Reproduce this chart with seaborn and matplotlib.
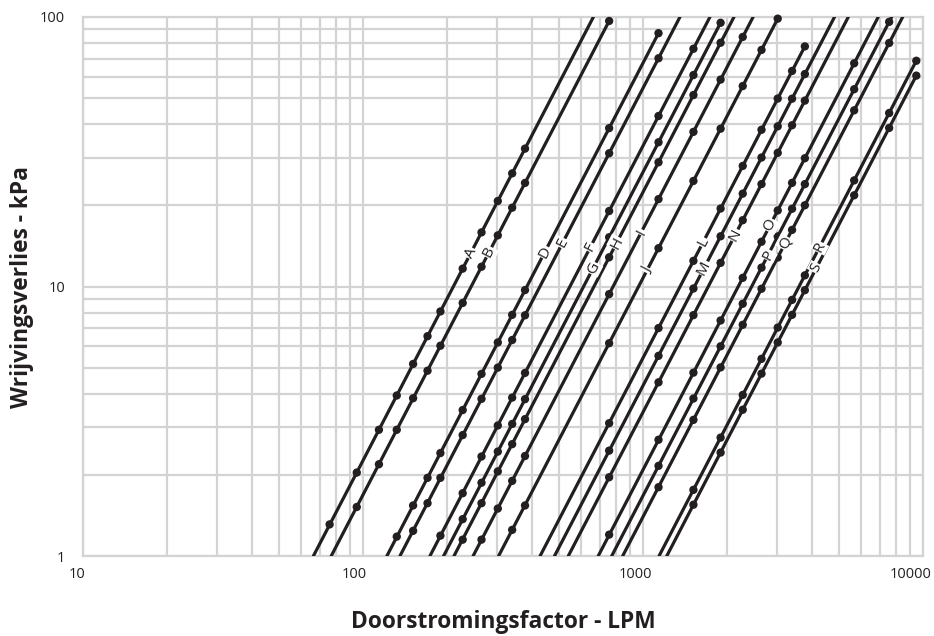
"""
Friction loss chart (Dutch): Wrijvingsverlies vs Doorstromingsfactor, log-log.
"""
import numpy as np
import pandas as pd
import matplotlib
matplotlib.use('Agg')
import matplotlib.pyplot as plt
import seaborn as sns
from matplotlib.ticker import FixedLocator, NullFormatter
from matplotlib.transforms import ScaledTranslation

# Line letters
series = ['A', 'B', 'D', 'E', 'F', 'G', 'H', 'I', 'J',
          'L', 'M', 'N', 'O', 'P', 'Q', 'R', 'S']

# Flow (LPM) where each line starts at 1 kPa, and where it ends
line_start_lpm = [66.5, 77.0, 121.7, 135.5, 173.4, 194.0, 211.3, 247.3, 305,
                  429, 483, 541, 692, 773, 846, 1141, 1216]
line_end_lpm = [665, 757, 1136, 1355, 1734, 1893, 2113, 2473, 3028,
                3785, 4830, 5410, 6920, 7730, 8460, 9464, 9464]
line_end_kpa = [100, 96.65, 87.1, 100, 100, 95.2, 100, 100, 98.6,
                77.8, 100, 100, 100, 100, 100, 68.8, 60.6]

# Measured points (LPM, kPa)
dot_lpm = {
    'A': [76, 95, 114, 132, 151, 170, 189, 227, 265, 303, 341, 379],
    'B': [95, 114, 132, 151, 170, 189, 227, 265, 303, 341, 379, 757],
    'D': [132, 151, 170, 189, 227, 265, 303, 341, 379, 757, 1136],
    'E': [151, 170, 189, 227, 265, 303, 341, 379, 757, 1136],
    'F': [189, 227, 265, 303, 341, 379, 757, 1136, 1514],
    'G': [227, 265, 303, 341, 379, 757, 1136, 1514, 1893],
    'H': [227, 265, 303, 341, 379, 757, 1136, 1514, 1893],
    'I': [265, 303, 341, 379, 757, 1136, 1514, 1893, 2271],
    'J': [341, 379, 757, 1136, 1514, 1893, 2271, 2650, 3028],
    'L': [757, 1136, 1514, 1893, 2271, 2650, 3028, 3407, 3785],
    'M': [757, 1136, 1514, 1893, 2271, 2650, 3028, 3407, 3785],
    'N': [757, 1136, 1514, 1893, 2271, 2650, 3028, 3407, 3785],
    'O': [757, 1136, 1514, 1893, 2271, 2650, 3028, 3407, 3785, 5678],
    'P': [1136, 1514, 1893, 2271, 2650, 3028, 3407, 3785, 5678, 7571],
    'Q': [1136, 1514, 1893, 2271, 2650, 3028, 3407, 3785, 5678, 7571],
    'R': [1514, 1893, 2271, 2650, 3028, 3407, 3785, 5678, 7571, 9464],
    'S': [1514, 1893, 2271, 2650, 3028, 3407, 3785, 5678, 7571, 9464],
}
dot_kpa = {
    'A': [1.31, 2.04, 2.94, 3.94, 5.16, 6.54, 8.08, 11.65, 15.88, 20.76, 26.29, 32.48],
    'B': [1.52, 2.19, 2.94, 3.85, 4.87, 6.03, 8.69, 11.84, 15.48, 19.61, 24.23, 96.65],
    'D': [1.18, 1.54, 1.95, 2.41, 3.48, 4.74, 6.20, 7.85, 9.70, 38.69, 87.1],
    'E': [1.24, 1.57, 1.95, 2.81, 3.83, 5.00, 6.33, 7.82, 31.21, 70.29],
    'F': [1.19, 1.71, 2.34, 3.05, 3.87, 4.78, 19.06, 42.92, 76.23],
    'G': [1.37, 1.87, 2.44, 3.09, 3.82, 15.23, 34.29, 60.9, 95.2],
    'H': [1.15, 1.57, 2.06, 2.60, 3.22, 12.83, 28.90, 51.34, 80.26],
    'I': [1.15, 1.50, 1.90, 2.35, 9.37, 21.10, 37.48, 58.59, 84.33],
    'J': [1.25, 1.54, 6.16, 13.87, 24.64, 38.52, 55.44, 75.49, 98.6],
    'L': [3.11, 7.01, 12.45, 19.47, 28.02, 38.16, 49.82, 63.07, 77.8],
    'M': [2.46, 5.53, 9.83, 15.36, 22.11, 30.10, 39.30, 49.76, 61.41],
    'N': [1.96, 4.41, 7.83, 12.24, 17.62, 23.99, 31.33, 39.66, 48.95],
    'O': [1.20, 2.70, 4.79, 7.48, 10.77, 14.66, 19.15, 24.24, 29.92, 67.33],
    'P': [2.16, 3.84, 6.00, 8.63, 11.75, 15.34, 19.43, 23.98, 53.95, 95.93],
    'Q': [1.80, 3.20, 5.01, 7.21, 9.81, 12.81, 16.22, 20.02, 45.05, 80.09],
    'R': [1.76, 2.75, 3.96, 5.39, 7.04, 8.92, 11.0, 24.76, 44.03, 68.8],
    'S': [1.55, 2.42, 3.49, 4.75, 6.20, 7.85, 9.69, 21.80, 38.76, 60.6],
}

# Where the letter sits on each line (kPa)
label_kpa = [13.3, 13.4, 13.4, 14.5, 14.0, 11.7, 14.5, 15.9, 11.5,
             14.6, 11.7, 15.5, 16.9, 13.1, 14.5, 14.0, 11.7]

x_ticks = [10, 100, 1000, 10000]
y_ticks = [1, 10, 100]

INK = '#231f20'
GRID = '#d3d3d5'

sns.set_theme(style='white')
plt.rcParams['font.family'] = ['Open Sans', 'DejaVu Sans']

lines_df = pd.DataFrame({
    'series': series * 2,
    'lpm': line_start_lpm + line_end_lpm,
    'kpa': [1.0] * len(series) + line_end_kpa,
})
dots_df = pd.DataFrame(
    [(s, q, p) for s in series for q, p in zip(dot_lpm[s], dot_kpa[s])],
    columns=['series', 'lpm', 'kpa'])

fig = plt.figure(figsize=(9.34, 6.36), dpi=100)
ax = fig.add_axes([83 / 934, 1 - 556 / 636, 840 / 934, 539 / 636])
ax.set_xscale('log')
ax.set_yscale('log')

sns.lineplot(data=lines_df, x='lpm', y='kpa', units='series', estimator=None,
             color=INK, linewidth=2.3, sort=False, legend=False, ax=ax, zorder=3)
sns.scatterplot(data=dots_df, x='lpm', y='kpa', color=INK, s=36,
                edgecolor='none', legend=False, ax=ax, zorder=4, clip_on=False)

# letters placed on the lines, rotated along the slope
for name, q0, p in zip(series, line_start_lpm, label_kpa):
    ax.text(q0 * np.sqrt(p), p, name, rotation=62.5, rotation_mode='anchor',
            ha='center', va='center', fontsize=11, color=INK, zorder=5,
            bbox=dict(facecolor='white', edgecolor='none', pad=0.5))

ax.set_xlim(10, 10000)
ax.set_ylim(1, 100)

minor_x = [m * 10 ** e for e in range(1, 4) for m in range(2, 10)]
minor_y = [m * 10 ** e for e in range(0, 2) for m in range(2, 10)]
ax.xaxis.set_major_locator(FixedLocator(x_ticks))
ax.yaxis.set_major_locator(FixedLocator(y_ticks))
ax.xaxis.set_minor_locator(FixedLocator(minor_x))
ax.yaxis.set_minor_locator(FixedLocator(minor_y))
ax.xaxis.set_minor_formatter(NullFormatter())
ax.yaxis.set_minor_formatter(NullFormatter())
ax.set_xticklabels([str(t) for t in x_ticks])
ax.set_yticklabels([str(t) for t in y_ticks])
ax.grid(True, which='both', color=GRID, linewidth=1.6, zorder=0)
ax.set_axisbelow(True)
for sp in ax.spines.values():
    sp.set_color(GRID)
    sp.set_linewidth(1.6)
ax.tick_params(which='both', length=0)
ax.tick_params(axis='x', pad=8, labelsize=10.5, colors=INK)
ax.tick_params(axis='y', pad=13, labelsize=10.5, colors=INK)

# tick labels sit a little left of their grid lines
x_shift = [-6, -9, -8, -12]
for lab, dx in zip(ax.get_xticklabels(), x_shift):
    lab.set_transform(lab.get_transform()
                      + ScaledTranslation(dx / 100, 0, fig.dpi_scale_trans))

ax.set_xlabel('Doorstromingsfactor - LPM', fontsize=16.4, fontweight='bold', color=INK)
ax.set_ylabel('Wrijvingsverlies - kPa', fontsize=16.4, fontweight='bold', color=INK)
ax.xaxis.set_label_coords(0.5, (556 - 622) / 539)
ax.xaxis.label.set_va('center')
ax.yaxis.set_label_coords((22 - 83) / 840, 0.5)
ax.yaxis.label.set_va('center')

fig.savefig('out.png', dpi=100, facecolor='white')
